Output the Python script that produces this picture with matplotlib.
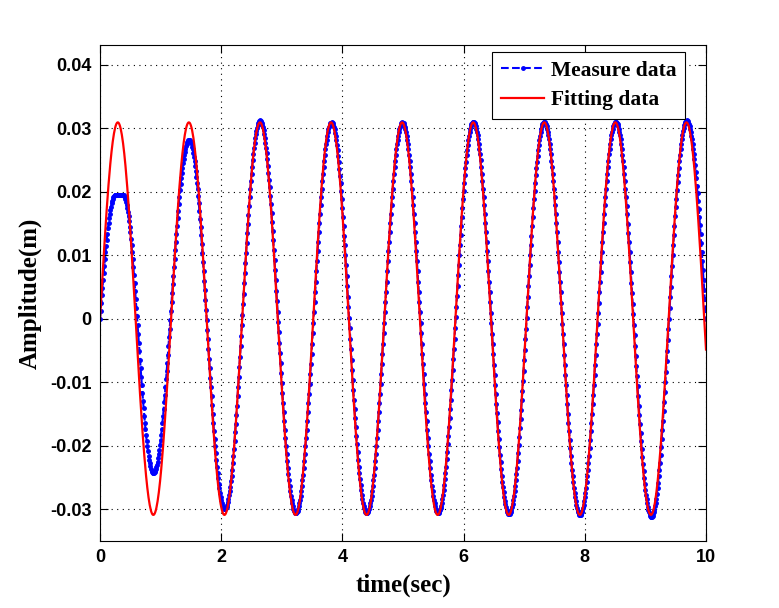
import numpy as np
import matplotlib
matplotlib.use("Agg")
import matplotlib.pyplot as plt

# fitted sinusoid parameters
fit_amp = 0.0309      # m
fit_period = 1.173    # s

meas_t = [0.00, 0.25, 0.38, 0.88, 1.47, 2.06, 2.64, 3.23, 3.82,
          4.40, 4.99, 5.58, 6.16, 6.75, 7.33, 7.92, 8.51, 9.10, 9.68, 10.0]
meas_v = [0.0, 0.0195, 0.0195, -0.0243, 0.0281, -0.0300, 0.0312, -0.0306, 0.0309,
          -0.0306, 0.0309, -0.0306, 0.0310, -0.0308, 0.0310, -0.0309, 0.0310, -0.0312, 0.0312, 0.0]

xticks = [0, 2, 4, 6, 8, 10]
yticks = [-0.03, -0.02, -0.01, 0, 0.01, 0.02, 0.03, 0.04]
ytick_labels = ["-0.03", "-0.02", "-0.01", "0", "0.01", "0.02", "0.03", "0.04"]

t = np.linspace(0, 10, 1001)

# fitted curve
y_fit = fit_amp * np.sin(2 * np.pi * t / fit_period)

y_meas = np.zeros_like(t)
n = len(meas_t)
for i in range(n - 1):
    t0, t1 = meas_t[i], meas_t[i + 1]
    v0, v1 = meas_v[i], meas_v[i + 1]
    m = (t >= t0) & (t <= t1)
    s = (t[m] - t0) / (t1 - t0)
    if i == 0:
        # rising quarter wave from zero
        y_meas[m] = v1 * np.sin(np.pi / 2 * s)
    elif i == n - 2:
        # falling quarter wave to zero
        y_meas[m] = v0 * np.cos(np.pi / 2 * s)
    else:
        y_meas[m] = v0 + (v1 - v0) * (1 - np.cos(np.pi * s)) / 2

fig = plt.figure(figsize=(7.79, 6.08), dpi=100)
ax = fig.add_axes([0.1284, 0.1102, 0.7779, 0.815])

ax.plot(t, y_meas, color="blue", linestyle="--", marker=".",
        markersize=5, linewidth=1.5, label="Measure data")
ax.plot(t, y_fit, color="red", linewidth=1.6, label="Fitting data")

ax.set_xlim(0, 10)
ax.set_ylim(-0.035, 0.043)
ax.set_xticks(xticks)
ax.set_yticks(yticks)
ax.set_yticklabels(ytick_labels)

ax.grid(True, color="black", linestyle=(0, (1, 4)), linewidth=0.8)
ax.tick_params(direction="in", length=6, width=0.8, top=True, right=True,
               labelsize=13, pad=6)
for lab in ax.get_xticklabels() + ax.get_yticklabels():
    lab.set_fontfamily("Liberation Sans")
    lab.set_fontweight("bold")
for sp in ax.spines.values():
    sp.set_linewidth(0.8)

ax.set_xlabel("time(sec)", fontfamily="Liberation Serif", fontweight="bold",
              fontsize=18, labelpad=5)
ax.set_ylabel("Amplitude(m)", fontfamily="Liberation Serif", fontweight="bold",
              fontsize=18, labelpad=6)

leg = ax.legend(loc="upper right", bbox_to_anchor=(0.965, 0.987), borderaxespad=0,
                fancybox=False, framealpha=1, edgecolor="black", numpoints=1,
                handlelength=2.0, handletextpad=0.3, borderpad=0.4,
                labelspacing=0.45,
                prop={"family": "Liberation Serif", "weight": "bold", "size": 15.5})
leg.get_frame().set_linewidth(0.8)

fig.savefig("out.png", dpi=100)
